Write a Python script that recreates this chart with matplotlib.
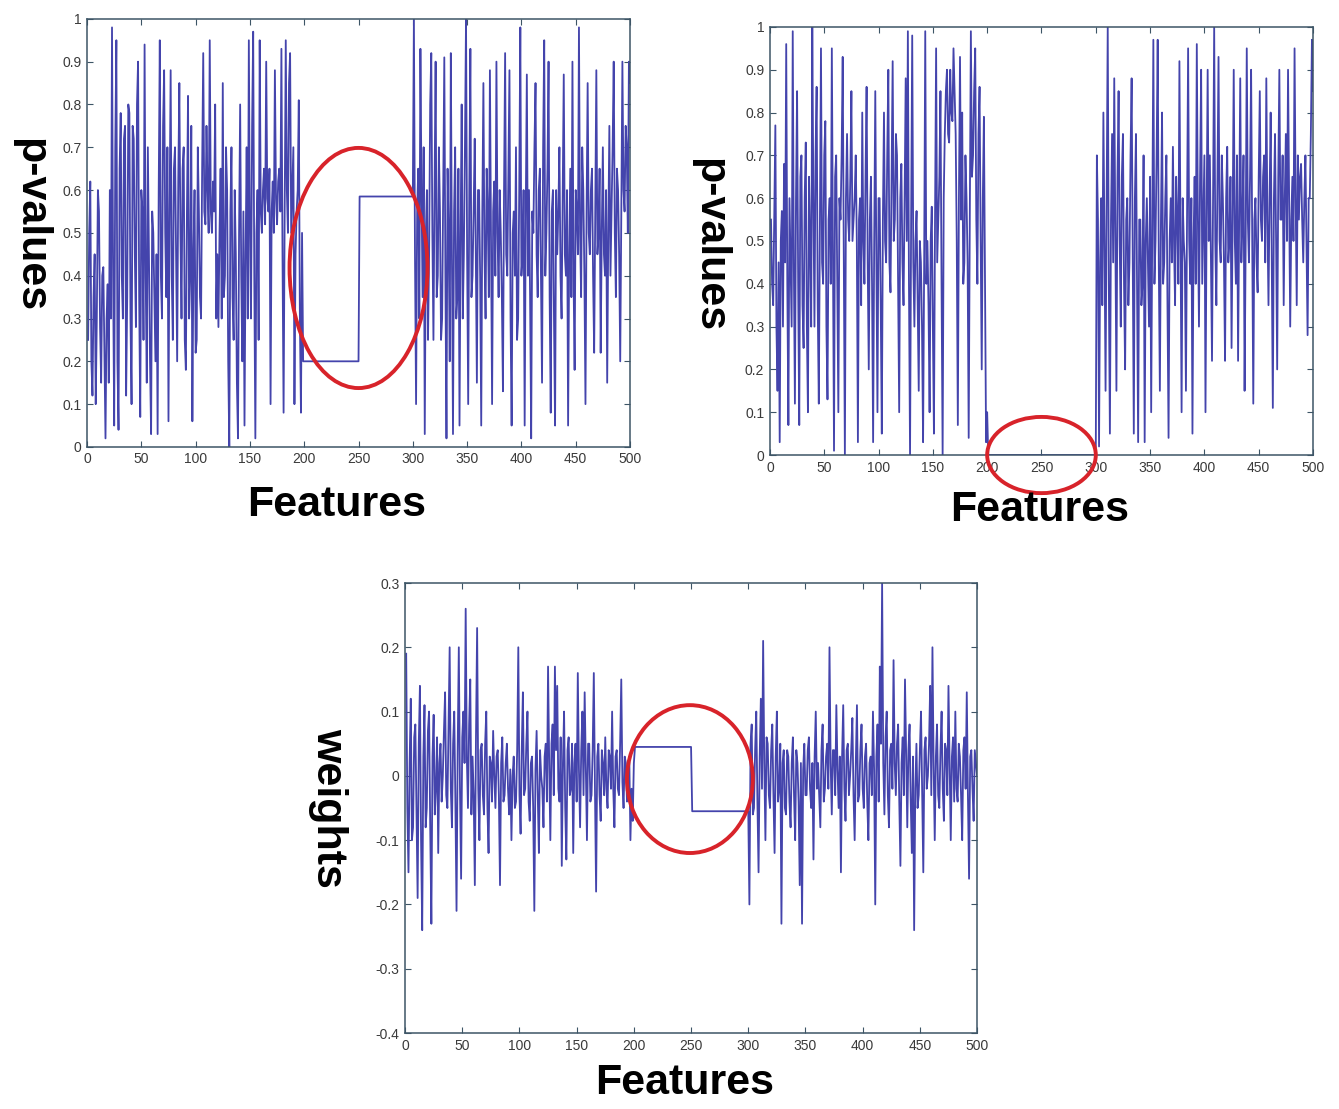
import numpy as np
import matplotlib.pyplot as plt
from matplotlib.patches import Ellipse

plt.rcParams['font.family'] = ['Liberation Sans', 'DejaVu Sans']

# feature indices: 1-200 noisy, 201-300 the planted block, 301-500 noisy
feat_left = np.arange(1, 201)
feat_mid_a = np.arange(201, 251)
feat_mid_b = np.arange(251, 301)
feat_right = np.arange(301, 501)

# --- p-values, first test (features 200-300 carry two constant levels)
pval1_left = [
    0.25, 0.50, 0.62, 0.20, 0.12, 0.35, 0.45, 0.10, 0.30, 0.60, 0.55, 0.28, 0.15, 0.40, 0.42, 0.22, 0.02, 0.30, 0.38, 0.15,
    0.60, 0.30, 0.98, 0.40, 0.05, 0.70, 0.95, 0.20, 0.04, 0.65, 0.78, 0.40, 0.30, 0.72, 0.75, 0.12, 0.35, 0.80, 0.78, 0.30,
    0.10, 0.75, 0.72, 0.45, 0.28, 0.80, 0.90, 0.35, 0.07, 0.60, 0.55, 0.25, 0.94, 0.40, 0.15, 0.70, 0.45, 0.20, 0.03, 0.55,
    0.50, 0.35, 0.20, 0.45, 0.03, 0.60, 0.95, 0.40, 0.30, 0.75, 0.88, 0.50, 0.35, 0.70, 0.06, 0.55, 0.88, 0.40, 0.25, 0.65,
    0.70, 0.45, 0.20, 0.62, 0.85, 0.50, 0.30, 0.65, 0.70, 0.25, 0.18, 0.55, 0.82, 0.30, 0.40, 0.75, 0.06, 0.45, 0.60, 0.22,
    0.25, 0.70, 0.55, 0.35, 0.30, 0.65, 0.92, 0.55, 0.52, 0.75, 0.60, 0.50, 0.95, 0.55, 0.50, 0.62, 0.55, 0.80, 0.30, 0.45,
    0.28, 0.50, 0.65, 0.30, 0.85, 0.35, 0.40, 0.70, 0.60, 0.20, 0.00, 0.55, 0.70, 0.35, 0.25, 0.60, 0.45, 0.15, 0.02, 0.50,
    0.80, 0.40, 0.20, 0.55, 0.05, 0.45, 0.70, 0.30, 0.95, 0.50, 0.30, 0.75, 0.97, 0.40, 0.02, 0.50, 0.60, 0.25, 0.95, 0.55,
    0.50, 0.60, 0.65, 0.52, 0.90, 0.58, 0.55, 0.65, 0.10, 0.55, 0.62, 0.50, 0.88, 0.58, 0.52, 0.62, 0.65, 0.55, 0.93, 0.45,
    0.08, 0.55, 0.95, 0.60, 0.50, 0.85, 0.92, 0.50, 0.60, 0.70, 0.10, 0.45, 0.55, 0.60, 0.81, 0.30, 0.08, 0.50, 0.20, 0.20,
]
pval1_levels = [0.20, 0.585]
pval1_right = [
    1.00, 0.45, 0.10, 0.55, 0.65, 0.30, 0.93, 0.60, 0.35, 0.70, 0.03, 0.50, 0.60, 0.25, 0.45, 0.80, 0.92, 0.50, 0.25, 0.60,
    0.90, 0.35, 0.40, 0.70, 0.55, 0.25, 0.30, 0.60, 0.91, 0.40, 0.02, 0.65, 0.50, 0.20, 0.92, 0.45, 0.03, 0.55, 0.70, 0.30,
    0.35, 0.65, 0.05, 0.50, 0.80, 0.30, 0.45, 0.70, 1.00, 0.45, 0.10, 0.60, 0.93, 0.35, 0.40, 0.55, 0.72, 0.45, 0.15, 0.60,
    0.60, 0.40, 0.05, 0.55, 0.85, 0.45, 0.30, 0.65, 0.55, 0.35, 0.88, 0.50, 0.10, 0.55, 0.62, 0.40, 0.90, 0.50, 0.35, 0.60,
    0.50, 0.35, 0.13, 0.60, 0.92, 0.45, 0.40, 0.65, 0.88, 0.30, 0.05, 0.50, 0.55, 0.40, 0.70, 0.25, 0.30, 0.60, 0.98, 0.40,
    0.45, 0.60, 0.05, 0.55, 0.87, 0.40, 0.60, 0.35, 0.02, 0.55, 0.50, 0.70, 0.85, 0.45, 0.35, 0.60, 0.65, 0.40, 0.15, 0.70,
    0.95, 0.40, 0.50, 0.65, 0.90, 0.35, 0.08, 0.55, 0.60, 0.30, 0.05, 0.60, 0.45, 0.55, 0.70, 0.40, 0.30, 0.60, 0.87, 0.45,
    0.40, 0.60, 0.05, 0.45, 0.65, 0.35, 0.90, 0.40, 0.18, 0.60, 0.55, 0.45, 0.98, 0.50, 0.35, 0.70, 0.60, 0.40, 0.10, 0.55,
    0.85, 0.50, 0.45, 0.60, 0.65, 0.40, 0.22, 0.55, 0.88, 0.45, 0.50, 0.65, 0.22, 0.50, 0.70, 0.45, 0.40, 0.60, 0.15, 0.50,
    0.75, 0.40, 0.55, 0.70, 0.90, 0.50, 0.35, 0.65, 0.60, 0.45, 0.20, 0.55, 0.90, 0.60, 0.55, 0.75, 0.70, 0.50, 0.90, 0.85,
]

# --- p-values, second test (features 200-300 are zero)
pval2_left = [
    0.55, 0.40, 0.35, 0.55, 0.77, 0.30, 0.15, 0.45, 0.03, 0.50, 0.57, 0.30, 0.68, 0.45, 0.96, 0.40, 0.07, 0.60, 0.45, 0.30,
    0.99, 0.45, 0.12, 0.60, 0.85, 0.40, 0.07, 0.65, 0.70, 0.35, 0.25, 0.60, 0.73, 0.30, 0.10, 0.65, 0.50, 0.30, 1.00, 0.60,
    0.30, 0.70, 0.86, 0.35, 0.12, 0.55, 0.95, 0.45, 0.40, 0.70, 0.78, 0.30, 0.13, 0.55, 0.60, 0.40, 0.95, 0.50, 0.01, 0.65,
    0.70, 0.40, 0.10, 0.60, 0.55, 0.70, 0.93, 0.45, 0.00, 0.60, 0.75, 0.55, 0.50, 0.65, 0.85, 0.50, 0.55, 0.60, 0.70, 0.50,
    0.03, 0.55, 0.60, 0.35, 0.80, 0.50, 0.40, 0.65, 0.86, 0.45, 0.20, 0.55, 0.65, 0.40, 0.03, 0.50, 0.85, 0.45, 0.10, 0.60,
    0.60, 0.35, 0.05, 0.55, 0.80, 0.50, 0.45, 0.70, 0.90, 0.45, 0.38, 0.65, 0.92, 0.50, 0.55, 0.75, 0.70, 0.40, 0.10, 0.60,
    0.68, 0.45, 0.35, 0.60, 0.88, 0.50, 0.99, 0.40, 0.00, 0.55, 0.98, 0.45, 0.30, 0.50, 0.57, 0.35, 0.15, 0.50, 0.45, 0.30,
    0.03, 0.45, 0.99, 0.40, 0.50, 0.35, 0.10, 0.50, 0.58, 0.30, 0.05, 0.55, 0.95, 0.45, 0.55, 0.65, 0.85, 0.40, 0.00, 0.60,
    0.75, 0.85, 0.90, 0.75, 0.73, 0.90, 0.80, 0.78, 0.95, 0.85, 0.75, 0.50, 0.07, 0.60, 0.93, 0.55, 0.80, 0.40, 0.45, 0.70,
    0.60, 0.45, 0.04, 0.55, 0.99, 0.65, 0.70, 0.85, 0.95, 0.55, 0.40, 0.75, 0.86, 0.50, 0.20, 0.60, 0.79, 0.40, 0.03, 0.10,
]
pval2_levels = [0.0, 0.0]
pval2_right = [
    0.70, 0.55, 0.02, 0.45, 0.60, 0.35, 0.80, 0.50, 0.15, 0.60, 1.00, 0.40, 0.05, 0.55, 0.75, 0.45, 0.88, 0.50, 0.15, 0.65,
    0.85, 0.50, 0.30, 0.65, 0.75, 0.40, 0.20, 0.55, 0.60, 0.35, 0.45, 0.70, 0.88, 0.45, 0.05, 0.60, 0.75, 0.40, 0.03, 0.55,
    0.55, 0.35, 0.40, 0.70, 0.03, 0.50, 0.60, 0.45, 0.30, 0.65, 0.10, 0.55, 0.97, 0.40, 0.50, 0.70, 0.97, 0.45, 0.15, 0.55,
    0.80, 0.40, 0.45, 0.60, 0.70, 0.35, 0.04, 0.50, 0.60, 0.45, 0.72, 0.50, 0.35, 0.65, 0.55, 0.40, 0.92, 0.50, 0.10, 0.60,
    0.50, 0.45, 0.15, 0.55, 0.95, 0.50, 0.40, 0.60, 0.05, 0.50, 0.65, 0.40, 0.96, 0.55, 0.30, 0.65, 0.90, 0.40, 0.55, 0.70,
    0.10, 0.55, 0.90, 0.50, 0.70, 0.45, 0.22, 0.60, 1.00, 0.50, 0.35, 0.65, 0.93, 0.50, 0.45, 0.70, 0.60, 0.45, 0.22, 0.60,
    0.72, 0.45, 0.50, 0.65, 0.25, 0.55, 0.90, 0.50, 0.40, 0.70, 0.22, 0.55, 0.88, 0.45, 0.55, 0.70, 0.15, 0.50, 0.95, 0.55,
    0.45, 0.65, 0.90, 0.50, 0.12, 0.55, 0.60, 0.45, 0.38, 0.65, 0.85, 0.55, 0.50, 0.65, 0.70, 0.45, 0.88, 0.55, 0.35, 0.60,
    0.80, 0.45, 0.11, 0.60, 0.75, 0.50, 0.20, 0.65, 0.90, 0.55, 0.55, 0.70, 0.35, 0.60, 0.75, 0.50, 0.90, 0.60, 0.30, 0.55,
    0.65, 0.50, 0.95, 0.60, 0.35, 0.70, 0.55, 0.65, 0.68, 0.55, 0.45, 0.60, 0.70, 0.50, 0.28, 0.60, 0.60, 0.75, 0.97, 0.85,
]

# --- learned weights
weights_left = [
    0.19, -0.05, -0.15, 0.02, 0.12, -0.10, -0.08, 0.06, 0.08, -0.06, -0.19, 0.05, 0.14, -0.10, -0.24, 0.03, 0.11, -0.08, -0.05, 0.07,
    0.10, -0.08, -0.23, 0.03, 0.095, -0.06, -0.02, 0.06, -0.12, 0.02, 0.05, -0.04, 0.00, 0.07, 0.13, -0.03, -0.05, 0.08, 0.20, -0.02,
    -0.08, 0.05, 0.10, -0.04, -0.21, 0.04, 0.20, -0.02, -0.16, 0.06, 0.10, 0.02, 0.26, 0.03, -0.05, 0.08, 0.15, -0.06, 0.03, -0.03,
    -0.17, 0.06, 0.23, -0.02, -0.10, 0.04, 0.05, -0.03, -0.06, 0.05, 0.10, -0.05, -0.12, 0.03, 0.02, -0.04, 0.07, 0.00, -0.05, 0.03,
    0.04, -0.03, -0.17, 0.02, 0.06, -0.04, -0.03, 0.02, 0.05, -0.02, -0.06, 0.01, -0.10, 0.00, 0.03, -0.05, -0.04, 0.04, 0.20, -0.03,
    -0.09, 0.04, 0.13, -0.03, -0.02, 0.05, 0.10, -0.04, -0.07, 0.02, 0.03, -0.05, -0.21, 0.01, 0.07, -0.03, -0.12, 0.04, 0.00, -0.02,
    -0.08, 0.03, 0.05, -0.04, 0.17, 0.02, -0.10, 0.05, 0.08, -0.03, 0.17, 0.04, 0.14, -0.02, -0.04, 0.06, -0.14, 0.02, 0.10, -0.05,
    -0.13, 0.04, 0.06, -0.03, -0.02, 0.05, -0.12, 0.02, 0.05, -0.04, 0.16, 0.01, -0.08, 0.04, 0.10, -0.03, 0.13, 0.02, -0.10, 0.05,
    0.05, -0.04, -0.03, 0.04, 0.16, -0.02, -0.18, 0.03, 0.05, -0.03, -0.07, 0.04, 0.02, -0.03, 0.06, -0.02, -0.05, 0.04, 0.03, -0.02,
    0.10, -0.02, -0.08, 0.03, 0.04, -0.02, -0.03, 0.05, 0.15, -0.01, -0.05, 0.03, 0.02, -0.04, -0.01, 0.03, -0.10, -0.02, -0.07, 0.02,
]
weights_levels = [0.045, -0.055]
weights_right = [
    -0.20, 0.05, 0.08, -0.06, -0.05, 0.04, 0.10, -0.04, -0.15, 0.03, 0.12, -0.02, 0.21, 0.02, -0.10, 0.06, 0.05, -0.03, -0.05, 0.04,
    0.08, -0.03, -0.12, 0.03, 0.10, -0.04, -0.02, 0.05, -0.23, 0.02, 0.04, -0.05, -0.06, 0.04, 0.03, -0.04, -0.08, 0.02, 0.06, -0.03,
    -0.10, 0.04, 0.02, -0.04, -0.17, 0.02, -0.23, 0.01, 0.05, -0.03, -0.03, 0.04, 0.06, -0.02, -0.05, 0.02, -0.13, 0.03, 0.10, -0.02,
    0.02, -0.03, -0.08, 0.04, 0.08, -0.04, -0.02, 0.03, 0.05, -0.02, 0.20, 0.02, -0.06, 0.04, 0.04, -0.03, 0.11, 0.01, -0.05, 0.03,
    -0.15, 0.03, 0.11, -0.02, -0.07, 0.04, 0.05, -0.03, 0.00, 0.04, 0.09, -0.03, -0.10, 0.02, 0.11, -0.04, -0.03, 0.04, 0.08, -0.02,
    -0.05, 0.03, 0.05, -0.04, -0.10, 0.02, 0.03, -0.03, 0.10, 0.01, -0.20, 0.03, 0.08, -0.04, 0.17, 0.05, 0.30, 0.02, -0.06, 0.06,
    0.10, -0.03, -0.08, 0.04, 0.05, -0.02, 0.18, 0.02, -0.03, 0.05, 0.08, -0.04, -0.14, 0.02, 0.06, -0.03, 0.15, 0.03, -0.08, 0.04,
    0.08, -0.04, -0.12, 0.03, -0.24, -0.02, 0.05, -0.05, -0.03, 0.04, 0.10, -0.03, -0.15, 0.04, 0.06, -0.02, 0.00, 0.05, 0.14, -0.03,
    0.20, 0.02, -0.10, 0.03, 0.08, -0.03, -0.05, 0.04, 0.10, -0.02, -0.07, 0.05, 0.04, -0.03, 0.14, 0.02, -0.10, 0.03, 0.06, -0.04,
    0.10, -0.02, -0.04, 0.05, 0.03, -0.03, -0.10, 0.04, 0.06, -0.02, 0.13, -0.03, -0.16, 0.03, 0.04, -0.02, -0.07, 0.04, 0.02, 0.00,
]

LINE = '#4444ac'
FRAME = '#3d5566'
RED = '#d8232a'


def full_series(left, levels, right):
    x = np.concatenate([feat_left, feat_mid_a, feat_mid_b, feat_right])
    y = np.concatenate([left,
                        np.full(len(feat_mid_a), levels[0]),
                        np.full(len(feat_mid_b), levels[1]),
                        right])
    return x, y


def style_axes(ax, ymin, ymax, ystep):
    ax.set_xlim(0, 500)
    ax.set_ylim(ymin, ymax)
    ax.set_xticks(np.arange(0, 501, 50))
    yt = np.round(np.arange(ymin, ymax + 1e-9, ystep), 2) + 0.0
    ax.set_yticks(yt)
    ax.set_yticklabels(['0' if abs(v) < 1e-9 else '%g' % v for v in yt])
    ax.tick_params(direction='in', top=True, right=True, length=4, width=0.8,
                   color=FRAME, labelsize=10, labelcolor='#3a3a3a', pad=4)
    for s in ax.spines.values():
        s.set_color(FRAME)
        s.set_linewidth(1.1)


fig = plt.figure(figsize=(13.39, 11.09), dpi=100)

# top left: p-values
ax1 = fig.add_axes([0.065, 0.597, 0.4055, 0.386])
x, y = full_series(pval1_left, pval1_levels, pval1_right)
ax1.plot(x, y, color=LINE, lw=1.3)
style_axes(ax1, 0, 1, 0.1)
ax1.add_patch(Ellipse((250, 0.418), 127, 0.561, fill=False, ec=RED, lw=2.8,
                      clip_on=False, zorder=5))

# top right: p-values
ax2 = fig.add_axes([0.575, 0.5897, 0.4056, 0.386])
x, y = full_series(pval2_left, pval2_levels, pval2_right)
ax2.plot(x, y, color=LINE, lw=1.3)
style_axes(ax2, 0, 1, 0.1)
ax2.add_patch(Ellipse((250, 0.0), 100, 0.178, fill=False, ec=RED, lw=2.8,
                      clip_on=False, zorder=5))

# bottom: weights
ax3 = fig.add_axes([0.3025, 0.0685, 0.4272, 0.4058])
x, y = full_series(weights_left, weights_levels, weights_right)
ax3.plot(x, y, color=LINE, lw=1.3)
style_axes(ax3, -0.4, 0.3, 0.1)
ax3.add_patch(Ellipse((249, -0.005), 110, 0.23, fill=False, ec=RED, lw=2.8,
                      clip_on=False, zorder=5))

lab = dict(fontsize=31, fontweight='bold', ha='center', va='center')
fig.text(0.0224, 0.797, 'p-values', rotation=270, **lab)
fig.text(0.2517, 0.5446, 'Features', **lab)
fig.text(0.530, 0.779, 'p-values', rotation=270, **lab)
fig.text(0.7767, 0.540, 'Features', **lab)
fig.text(0.245, 0.2714, 'weights', rotation=270, **lab)
fig.text(0.5116, 0.0234, 'Features', **lab)

fig.savefig('out.png', dpi=100)
